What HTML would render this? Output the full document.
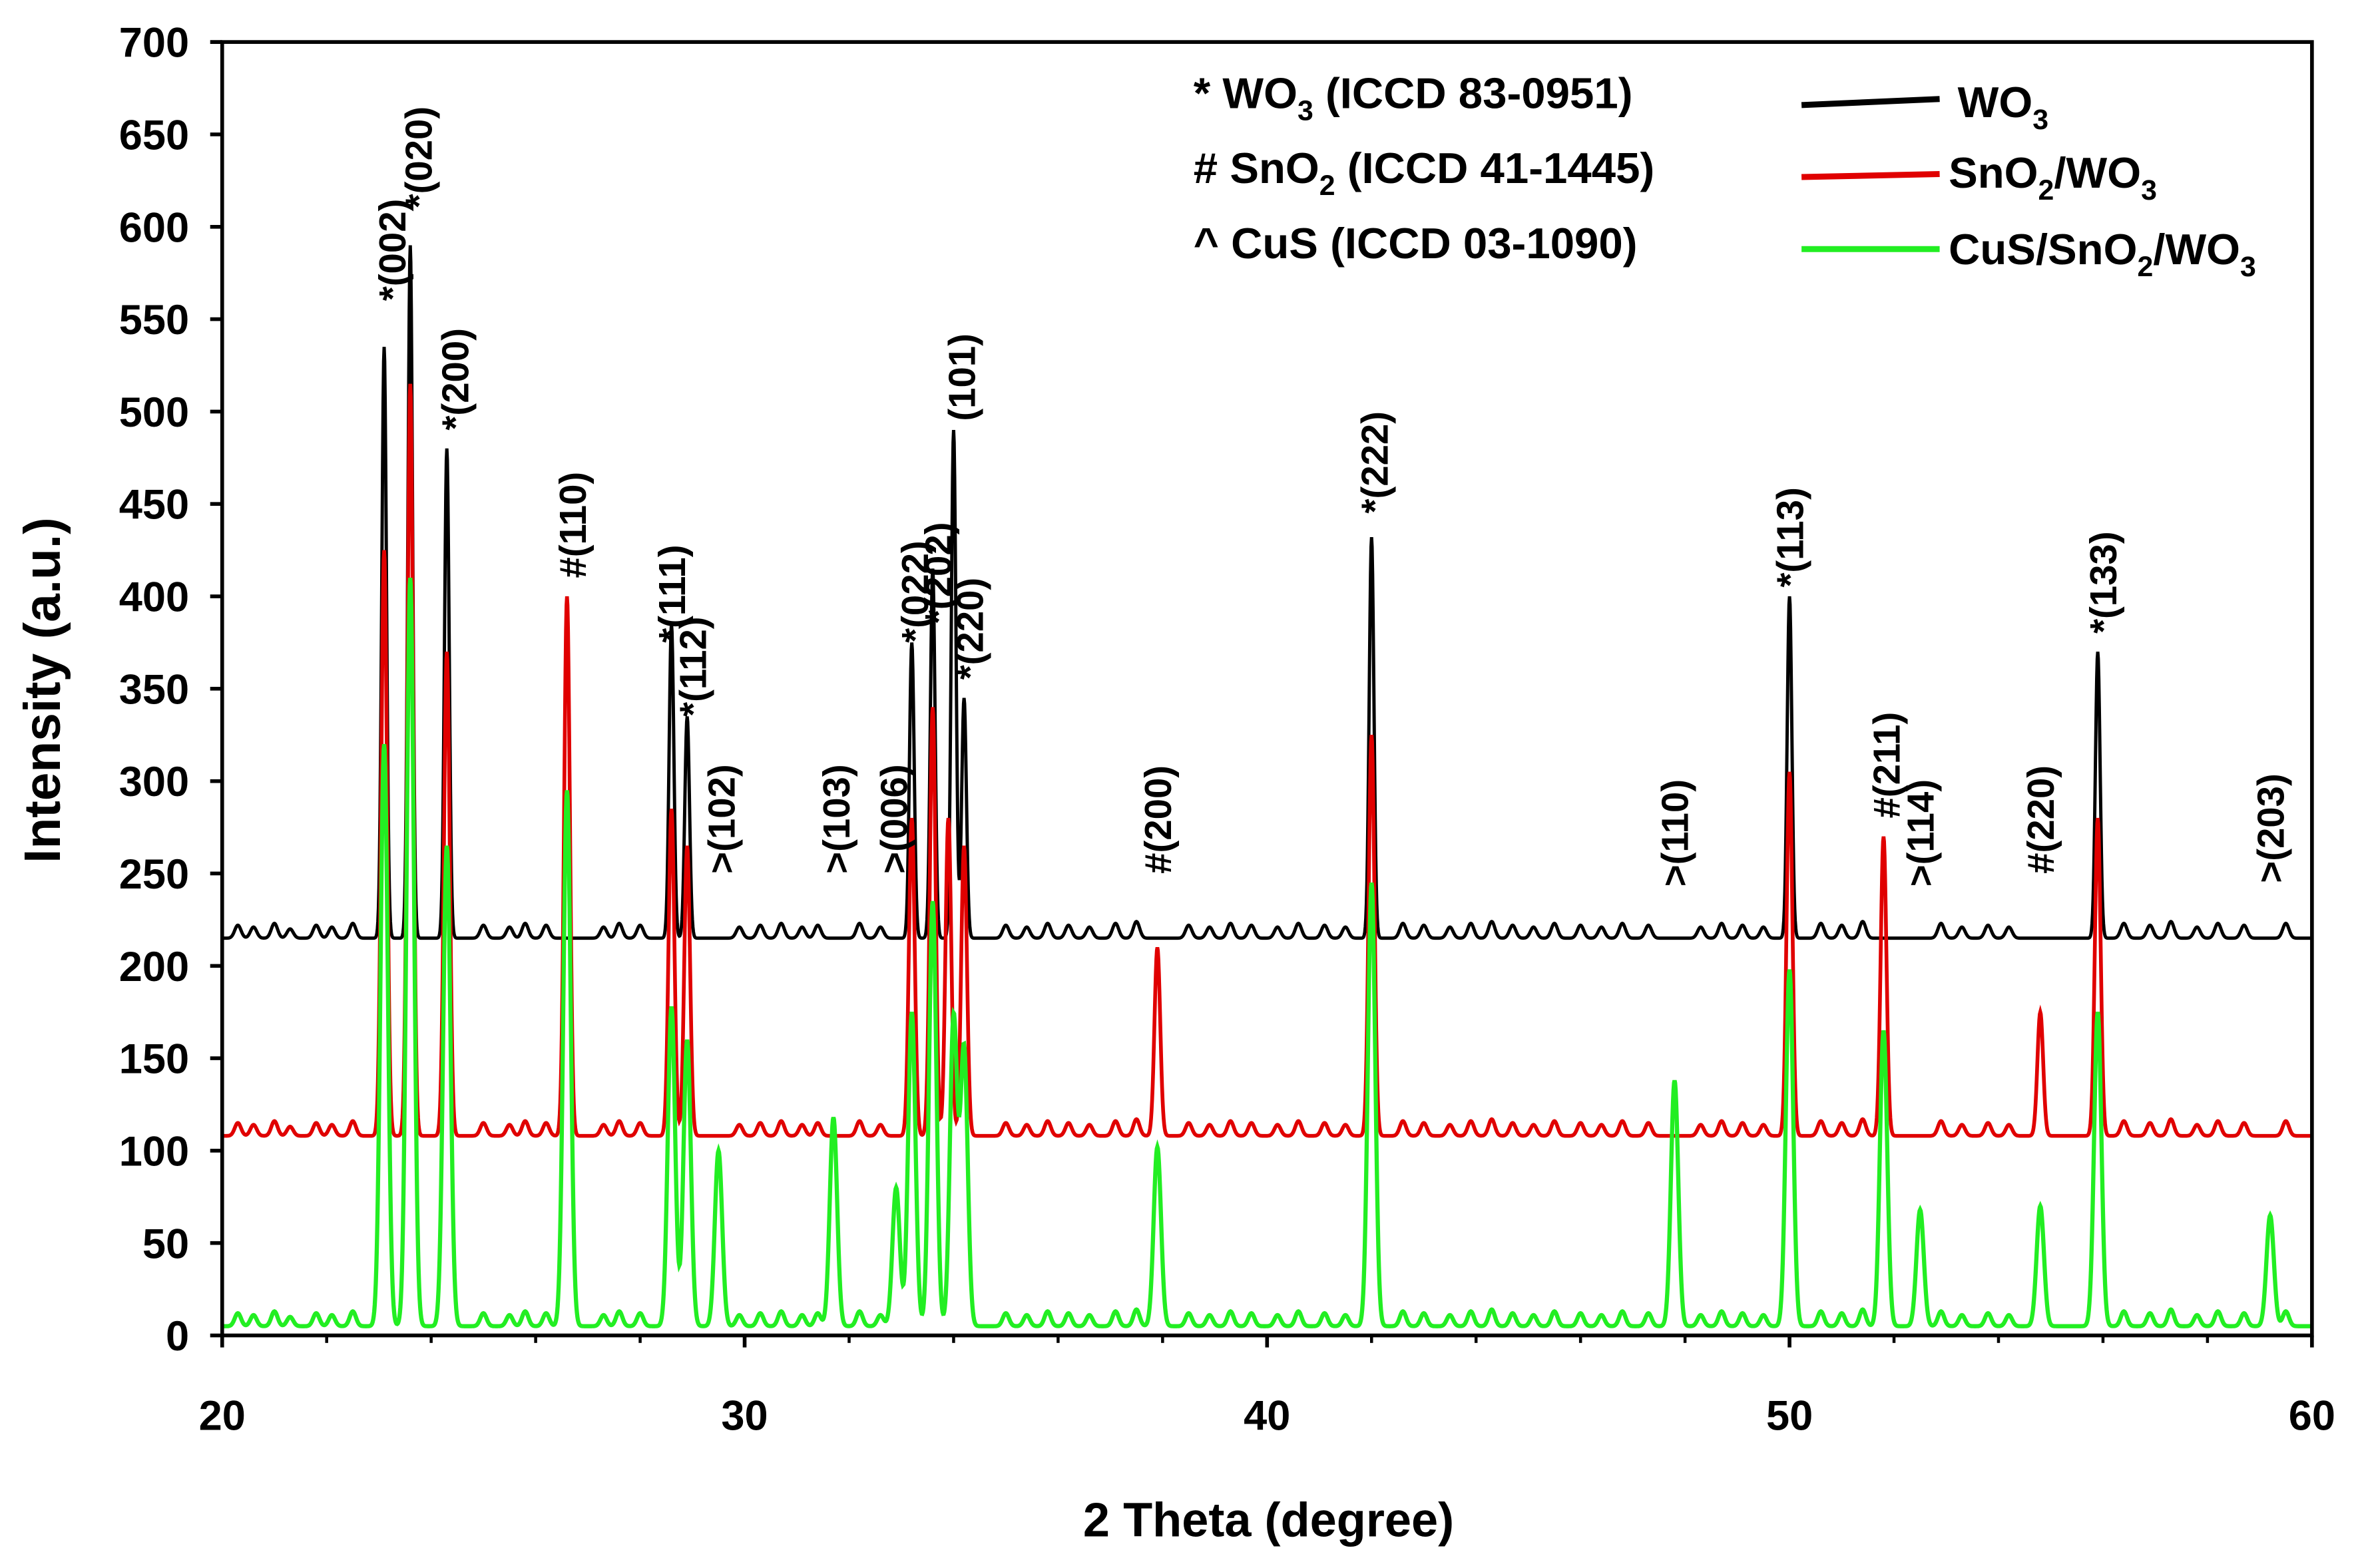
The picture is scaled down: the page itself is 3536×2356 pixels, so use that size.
<!DOCTYPE html>
<html><head><meta charset="utf-8"><style>
html,body{margin:0;padding:0;background:#fff;}
svg{display:block;font-family:"Liberation Sans",Arial,sans-serif;font-weight:bold;}
</style></head><body>
<svg id="chart" width="3536" height="2356" viewBox="0 0 1568 1045" preserveAspectRatio="none" xmlns="http://www.w3.org/2000/svg">
<rect x="0" y="0" width="1568" height="1045" fill="#fff"/>
<g id="series"></g>
<g id="annots"></g>
<rect x="148" y="28" width="1392" height="862" fill="none" stroke="#000" stroke-width="2.5"/>
<g id="axes"></g>
<text transform="translate(40,460) rotate(-90)" text-anchor="middle" font-size="34">Intensity (a.u.)</text>
<text x="845" y="1024" text-anchor="middle" font-size="32">2 Theta (degree)</text>
<g font-size="29">
<text x="795" y="72">* WO<tspan font-size="19" dy="8">3</tspan><tspan dy="-8"> (ICCD 83-0951)</tspan></text>
<text x="795" y="122"># SnO<tspan font-size="19" dy="8">2</tspan><tspan dy="-8"> (ICCD 41-1445)</tspan></text>
<text x="795" y="172">^ CuS (ICCD 03-1090)</text>
</g>
<g font-size="29">
<g><line x1="1200" y1="70" x2="1292" y2="66" stroke="#000" stroke-width="4"/><text x="1304" y="78">WO<tspan font-size="19" dy="8">3</tspan></text></g>
<g><line x1="1200" y1="118" x2="1292" y2="116" stroke="#e00000" stroke-width="4"/><text x="1298" y="125">SnO<tspan font-size="19" dy="8">2</tspan><tspan dy="-8">/WO</tspan><tspan font-size="19" dy="8">3</tspan></text></g>
<g><line x1="1200" y1="166" x2="1292" y2="166" stroke="#22ee22" stroke-width="4"/><text x="1298" y="176">CuS/SnO<tspan font-size="19" dy="8">2</tspan><tspan dy="-8">/WO</tspan><tspan font-size="19" dy="8">3</tspan></text></g>
</g>
</svg>
<script>
const xTicks=[20,30,40,50,60];
const yTicks=[0,50,100,150,200,250,300,350,400,450,500,550,600,650,700];
const wo3Base=215, sno2Base=108, cusBase=5;
const wo3PeakPos=[23.1,23.6,24.3,28.6,28.9,33.2,33.6,34.0,34.2,42.0,50.0,55.9];
const wo3PeakInt=[535,590,480,385,335,375,415,490,345,432,400,370];
const sno2PeakPos=[23.1,23.6,24.3,26.6,28.6,28.9,33.2,33.6,33.9,34.2,37.9,42.0,50.0,51.8,54.8,55.9];
const sno2PeakInt=[425,515,370,400,285,265,280,340,280,265,210,325,305,270,175,280];
const cusPeakPos=[23.1,23.6,24.3,26.6,28.6,28.9,29.5,31.7,32.9,33.2,33.6,34.0,34.2,37.9,42.0,47.8,50.0,51.8,52.5,54.8,55.9,59.2];
const cusPeakInt=[320,410,265,295,178,160,100,118,80,175,235,172,155,102,245,138,198,165,68,70,175,65];
const noisePos=[20.3,20.6,21.0,21.3,21.8,22.1,22.5,25.0,25.5,25.8,26.2,27.3,27.6,28.0,29.9,30.3,30.7,31.1,31.4,32.2,32.6,35.0,35.4,35.8,36.2,36.6,37.1,37.5,38.5,38.9,39.3,39.7,40.2,40.6,41.1,41.5,42.6,43.0,43.5,43.9,44.3,44.7,45.1,45.5,46.0,46.4,46.8,47.3,48.3,48.7,49.1,49.5,50.6,51.0,51.4,52.9,53.3,53.8,54.2,56.4,56.9,57.3,57.8,58.2,58.7,59.5];
const noiseAmp=[7,6,8,5,7,6,8,7,6,8,7,6,8,7,6,7,8,6,7,8,6,7,6,8,7,6,8,9,7,6,8,7,6,8,7,6,8,7,6,8,9,7,6,8,7,6,8,7,6,8,7,6,8,7,9,8,6,7,6,8,7,9,6,8,7,8];
const annText=["*(002)","*(020)","*(200)","#(110)","*(111)","*(112)",">(102)",">(103)",">(006)","*(022)","*(202)","(101)","*(220)","#(200)","*(222)",">(110)","*(113)","#(211)",">(114)","#(220)","*(133)",">(203)"];
const annDeg=[23.25,23.75,24.45,26.7,28.6,29.0,29.55,31.75,32.85,33.25,33.7,34.15,34.3,37.9,42.05,47.8,50.0,51.85,52.5,54.8,56.0,59.2];
const annVal=[555,605,485,405,370,330,245,245,245,370,380,490,350,245,440,238,400,275,238,245,375,240];

const X=v=>148+(v-20)*1392/40;
const Y=v=>890-v*862/700;
const NS="http://www.w3.org/2000/svg";
function mk(tag,attrs,parent){const e=document.createElementNS(NS,tag);for(const k in attrs)e.setAttribute(k,attrs[k]);parent.appendChild(e);return e;}
const axes=document.getElementById('axes');
xTicks.forEach(t=>{
  const l=mk('line',{x1:X(t),x2:X(t),y1:890,y2:898,stroke:'#000','stroke-width':2.5},axes);
  
  
  const tx=mk('text',{x:X(t),y:953,'text-anchor':'middle','font-size':28},axes);
  tx.textContent=t;
  
  
});
for(let t=22;t<60;t+=2){if(t%10===0)continue;mk('line',{x1:X(t),x2:X(t),y1:890,y2:895,stroke:'#000','stroke-width':2},axes);}
yTicks.forEach(t=>{
  const l=mk('line',{x1:140,x2:148,y1:Y(t),y2:Y(t),stroke:'#000','stroke-width':2.5},axes);
  
  
  const tx=mk('text',{x:126,y:Y(t)+10,'text-anchor':'end','font-size':28},axes);
  tx.textContent=t;
  
  
});
function curve(base,pos,ints,sig,noiseScale){
  let d='';
  for(let i=0;i<=4000;i++){
    const x=20+i*0.01;let y=base;
    for(let j=0;j<pos.length;j++){const dx=x-pos[j];y+=(ints[j]-base)*Math.exp(-dx*dx/(2*sig*sig));}
    for(let j=0;j<noisePos.length;j++){const dx=x-noisePos[j];y+=noiseAmp[j]*noiseScale*Math.exp(-dx*dx/(2*0.06*0.06));}
    d+=(i?'L':'M')+X(x).toFixed(2)+' '+Y(y).toFixed(2);
  }
  return d;
}
const sg=document.getElementById('series');
const s1=mk('path',{d:curve(wo3Base,wo3PeakPos,wo3PeakInt,0.045,1),fill:'none',stroke:'#000','stroke-width':2.2},sg);


const s2=mk('path',{d:curve(sno2Base,sno2PeakPos,sno2PeakInt,0.055,1),fill:'none',stroke:'#e00000','stroke-width':2.5},sg);


const s3=mk('path',{d:curve(cusBase,cusPeakPos,cusPeakInt,0.07,1),fill:'none',stroke:'#22ee22','stroke-width':2.8},sg);


const ag=document.getElementById('annots');
annText.forEach((s,i)=>{
  const t=mk('text',{transform:`translate(${X(annDeg[i])+9},${Y(annVal[i])-6}) rotate(-90)`,'font-size':25},ag);
  t.textContent=s;
  
  
});
</script>
</body></html>
